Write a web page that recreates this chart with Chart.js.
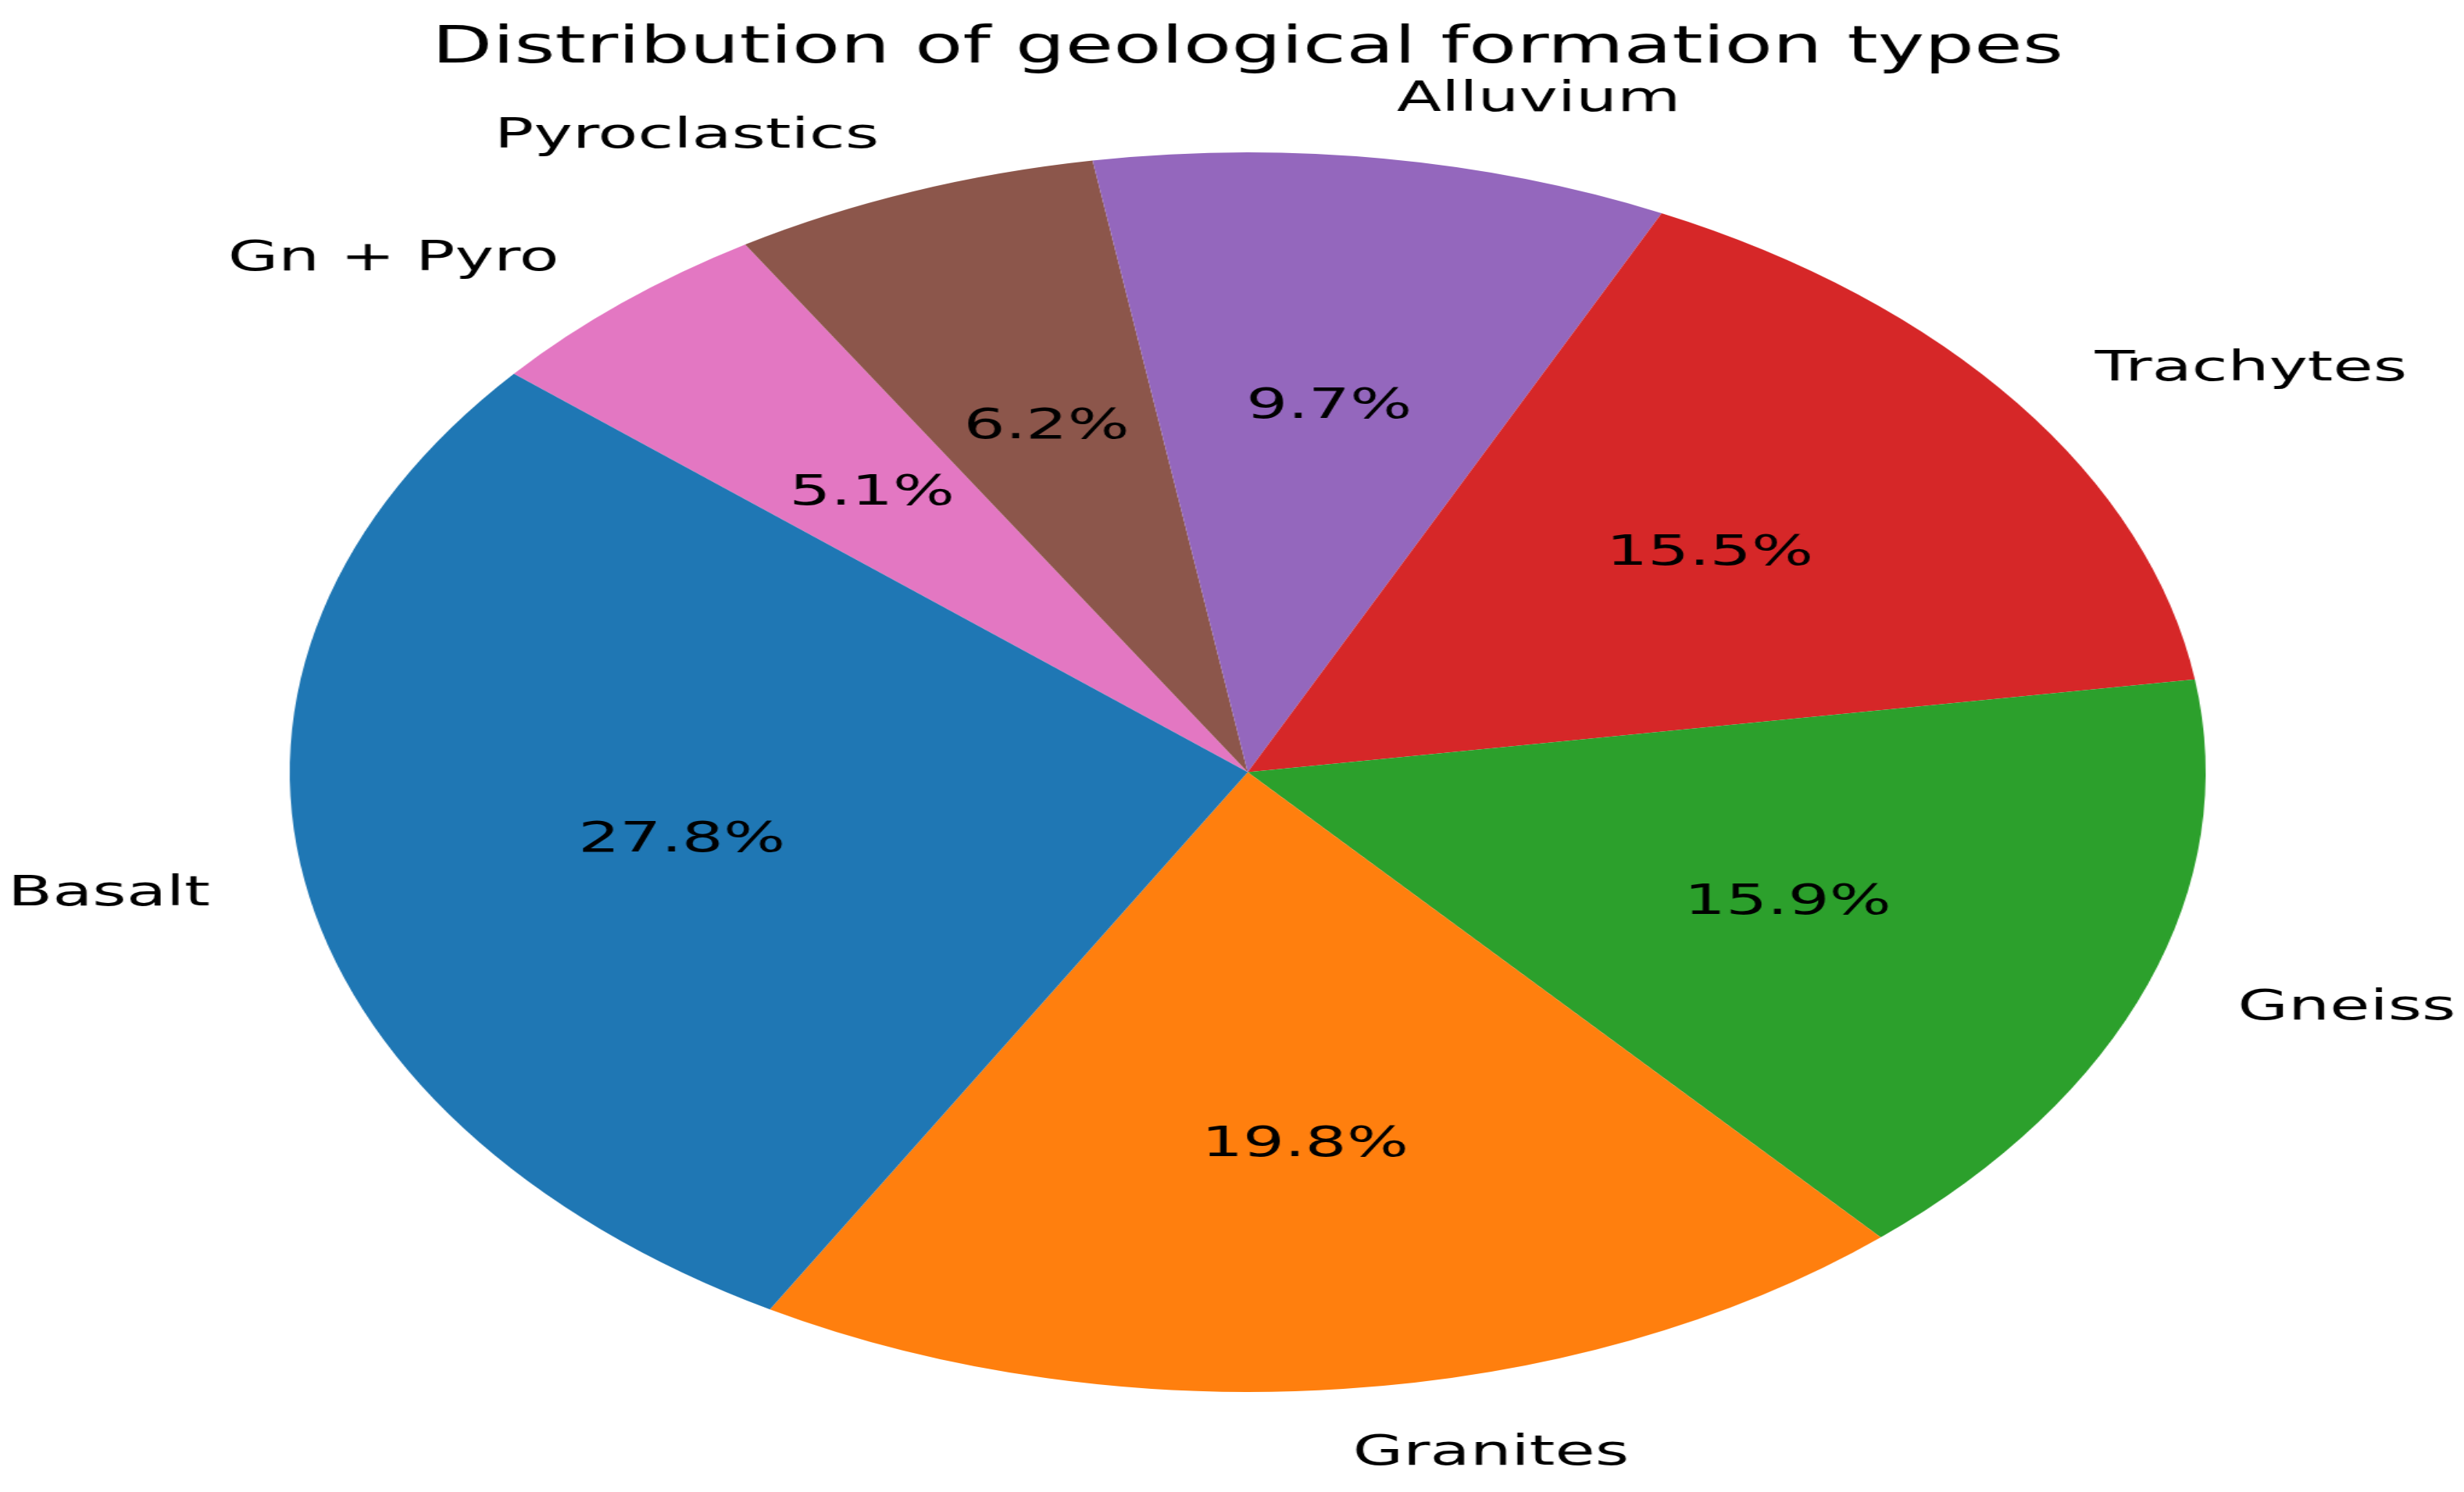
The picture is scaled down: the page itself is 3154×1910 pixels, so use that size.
<!DOCTYPE html>
<html><head><meta charset="utf-8">
<script src="https://cdn.jsdelivr.net/npm/chart.js@4.4.1/dist/chart.umd.min.js"></script>
<style>
html,body{margin:0;padding:0;background:#fff;overflow:hidden;width:3154px;height:1910px;}
#wrap{position:absolute;left:0;top:0;width:2041px;height:1910px;transform:scale(1.545321,1);transform-origin:0 0;}
canvas{display:block;}
</style></head><body>
<div id="wrap"><canvas id="c" width="2041" height="1910"></canvas></div>
<script>
const categories = ['Basalt', 'Granites', 'Gneiss', 'Trachytes', 'Alluvium', 'Pyroclastics', 'Gn + Pyro'];
const shares = [27.8, 19.8, 15.9, 15.5, 9.7, 6.2, 5.1];
const sliceColors = ['#1f77b4', '#ff7f0e', '#2ca02c', '#d62728', '#9467bd', '#8c564b', '#e377c2'];
const chartTitle = 'Distribution of geological formation types';

// matplotlib draws counter-clockwise, Chart.js clockwise: reverse the order
const drawLabels = categories.slice().reverse();
const drawValues = shares.slice().reverse();
const drawColors = sliceColors.slice().reverse();

const pieLabels = {
  id: 'pieLabels',
  afterDatasetsDraw(chart) {
    const ctx = chart.ctx;
    const meta = chart.getDatasetMeta(0);
    const data = chart.data.datasets[0].data;
    const total = data.reduce((a, b) => a + b, 0);
    ctx.save();
    ctx.fillStyle = '#000';
    ctx.font = '54px "DejaVu Sans"';
    ctx.textBaseline = 'middle';
    meta.data.forEach((arc, i) => {
      const p = arc.getProps(['x', 'y', 'startAngle', 'endAngle', 'outerRadius'], true);
      const mid = (p.startAngle + p.endAngle) / 2;
      const cs = Math.cos(mid), sn = Math.sin(mid);
      ctx.textAlign = cs > 0 ? 'left' : 'right';
      ctx.fillText(chart.data.labels[i], p.x + 1.1 * p.outerRadius * cs, p.y + 1.1 * p.outerRadius * sn + 4);
      ctx.textAlign = 'center';
      ctx.fillText((data[i] / total * 100).toFixed(1) + '%', p.x + 0.6 * p.outerRadius * cs, p.y + 0.6 * p.outerRadius * sn + 4);
    });
    ctx.restore();
  }
};

new Chart(document.getElementById('c'), {
  type: 'pie',
  data: {
    labels: drawLabels,
    datasets: [{
      data: drawValues,
      backgroundColor: drawColors,
      borderWidth: 0,
      hoverOffset: 0
    }]
  },
  options: {
    responsive: false,
    devicePixelRatio: 1,
    animation: false,
    events: [],
    rotation: -50,
    radius: 793.5,
    layout: { padding: { left: 120, right: 94, top: 0, bottom: 128 } },
    plugins: {
      legend: { display: false },
      tooltip: { enabled: false },
      title: {
        display: true,
        text: chartTitle,
        color: '#000',
        font: { family: '"DejaVu Sans"', size: 65, weight: 'normal', lineHeight: 1.2 },
        padding: { top: 24, bottom: 93 }
      }
    }
  },
  plugins: [pieLabels]
});
</script>
</body></html>
